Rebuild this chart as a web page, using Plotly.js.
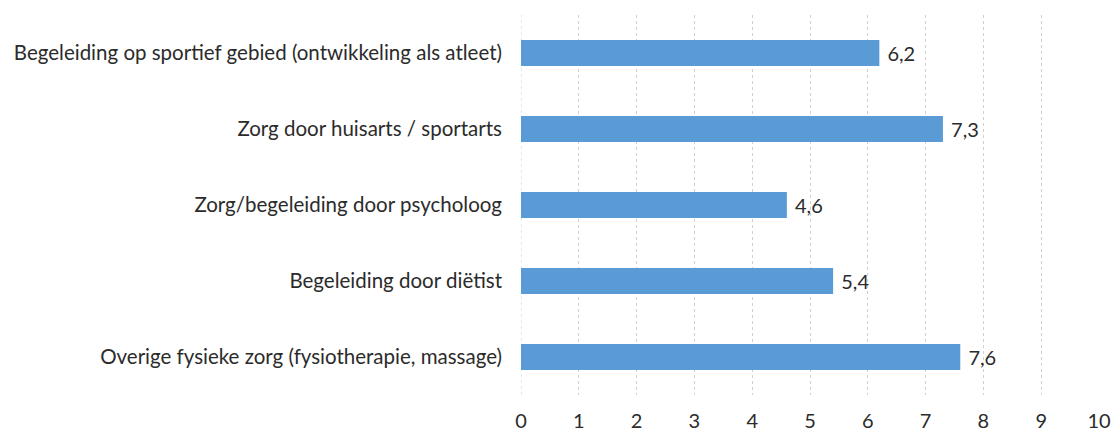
<!DOCTYPE html>
<html>
<head>
<meta charset="utf-8">
<script src="https://cdn.plot.ly/plotly-3.0.1.min.js"></script>
<style>html,body{margin:0;padding:0;background:#fff;}#chart{width:1111px;height:432px;}</style>
</head>
<body>
<div id="chart"></div>
<script>
var categories = [
  "Begeleiding op sportief gebied (ontwikkeling als atleet)",
  "Zorg door huisarts / sportarts",
  "Zorg/begeleiding door psycholoog",
  "Begeleiding door diëtist",
  "Overige fysieke zorg (fysiotherapie, massage)"
];
var scores = [6.2, 7.3, 4.6, 5.4, 7.6];
var xTicks = [0, 1, 2, 3, 4, 5, 6, 7, 8, 9, 10];

var fontFam = "Lato, 'Open Sans', sans-serif";
var txtColor = "#2b2b2b";
var trace = {
  type: "bar",
  orientation: "h",
  y: categories,
  x: scores,
  marker: {color: "#5B9BD5"},
  text: scores.map(function(v){return "\u00a0" + v.toFixed(1).replace('.', ',');}),
  textposition: "outside",
  textfont: {family: fontFam, size: 20, color: txtColor},
  cliponaxis: false,
  hoverinfo: "skip"
};
var layout = {
  width: 1111, height: 432,
  margin: {l: 521, r: 12, t: 15, b: 37},
  paper_bgcolor: "#fff", plot_bgcolor: "#fff",
  bargap: 0.66,
  showlegend: false,
  separators: ", ",
  xaxis: {
    range: [0, 10],
    tickvals: xTicks,
    ticktext: xTicks.map(String),
    showgrid: true,
    gridcolor: "#d0d0d0",
    griddash: "dot",
    gridwidth: 1,
    zeroline: false,
    showline: false,
    ticks: "",
    ticklabelstandoff: 12,
    tickfont: {family: fontFam, size: 20, color: txtColor},
    fixedrange: true
  },
  yaxis: {
    type: "category",
    autorange: "reversed",
    showgrid: false,
    zeroline: false,
    showline: false,
    ticks: "",
    ticklabelstandoff: 18,
    tickfont: {family: fontFam, size: 20.5, color: txtColor},
    fixedrange: true
  },
  shapes: [{
    type: "line", xref: "x", yref: "paper", x0: 0, x1: 0, y0: 0, y1: 1,
    line: {color: "#d0d0d0", width: 1, dash: "dot"}, layer: "below"
  }]
};
Plotly.newPlot("chart", [trace], layout, {displayModeBar: false, staticPlot: true});
</script>
</body>
</html>
